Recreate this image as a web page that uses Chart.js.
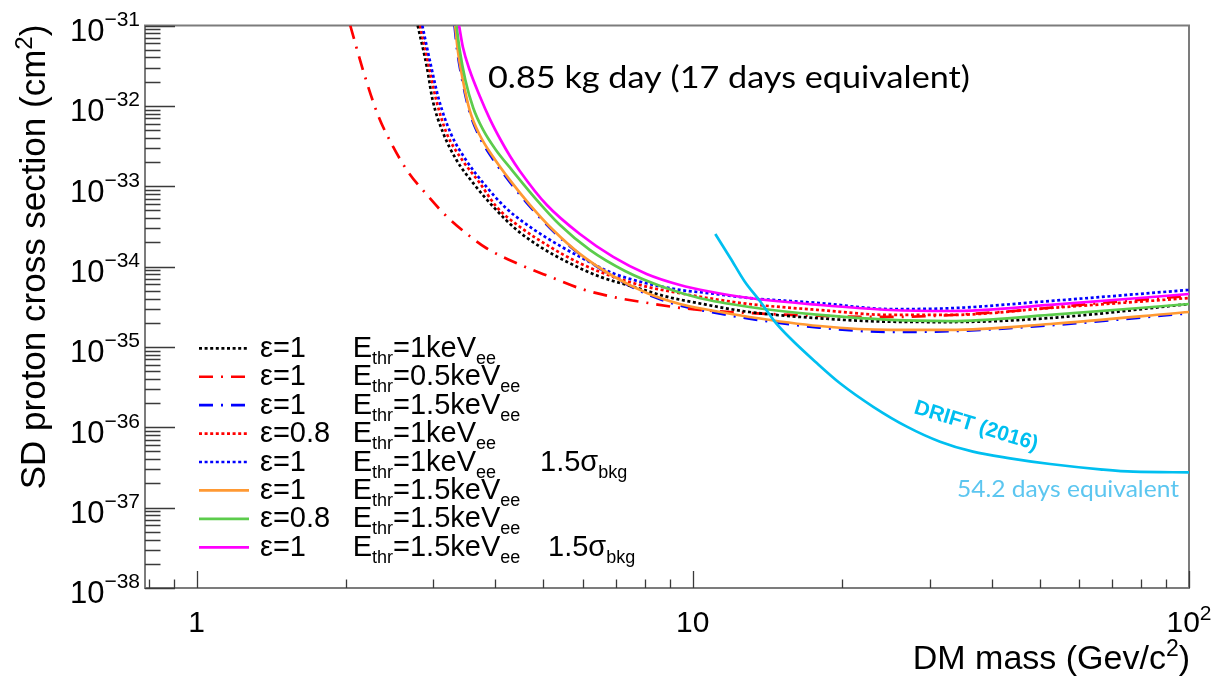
<!DOCTYPE html>
<html>
<head>
<meta charset="utf-8">
<script src="https://cdn.jsdelivr.net/npm/chart.js@4.4.1/dist/chart.umd.min.js"></script>
<style>
  html, body { margin: 0; padding: 0; background: #ffffff; }
  #wrap { width: 1217px; height: 680px; position: relative; }
</style>
</head>
<body>
<div id="wrap"><canvas id="chart" width="1217" height="680"></canvas></div>
<script>
// ---- Exclusion limits: DM mass (GeV/c^2) vs SD proton cross section (cm^2) ----
const massBlackDot = [2.79, 2.91, 2.99, 3.14, 3.34, 3.61, 3.96, 4.42, 4.92, 5.57, 6.50, 7.59, 8.86, 10.3, 13.0, 18.0, 25.0, 33.0, 52.5, 100];
const sigBlackDot  = [1.0e-31, 3.07e-32, 1.18e-32, 4.59e-33, 2.12e-33, 1.09e-33, 5.56e-34, 2.85e-34, 1.77e-34, 1.15e-34, 7.48e-35, 5.62e-35, 4.22e-35, 3.49e-35, 2.72e-35, 2.27e-35, 2.06e-35, 2.04e-35, 2.29e-35, 3.42e-35];

const massRedDashDot = [2.04, 2.17, 2.32, 2.49, 2.67, 2.89, 3.17, 3.55, 3.84, 4.42, 5.15, 6.00, 7.02, 8.20, 9.55, 13.0, 25.0, 41.6, 66.2, 100];
const sigRedDashDot  = [1.0e-31, 2.64e-32, 7.69e-33, 3.08e-33, 1.50e-33, 8.24e-34, 4.39e-34, 2.40e-34, 1.69e-34, 1.10e-34, 7.48e-35, 5.21e-35, 4.10e-35, 3.49e-35, 3.03e-35, 2.64e-35, 2.36e-35, 2.72e-35, 3.52e-35, 4.31e-35];

const massBlueDashDot = [3.31, 3.35, 3.43, 3.54, 3.70, 3.93, 4.25, 4.67, 5.21, 5.92, 6.90, 8.08, 9.42, 10.8, 13.0, 18.0, 25.0, 33.0, 52.5, 100];
const sigBlueDashDot  = [1.0e-31, 4.95e-32, 2.10e-32, 8.87e-33, 4.34e-33, 2.31e-33, 1.19e-33, 5.83e-34, 2.83e-34, 1.42e-34, 7.50e-35, 4.55e-35, 3.28e-35, 2.74e-35, 2.25e-35, 1.74e-35, 1.54e-35, 1.57e-35, 1.86e-35, 2.63e-35];

const massRedDot = [2.82, 2.94, 3.04, 3.19, 3.43, 3.72, 4.02, 4.48, 5.08, 5.92, 6.91, 8.07, 9.42, 10.8, 13.0, 18.0, 25.0, 33.0, 52.5, 100];
const sigRedDot  = [1.0e-31, 3.07e-32, 1.18e-32, 4.59e-33, 2.12e-33, 1.10e-33, 5.56e-34, 3.13e-34, 1.86e-34, 1.10e-34, 7.48e-35, 5.62e-35, 4.66e-35, 4.03e-35, 3.42e-35, 2.88e-35, 2.50e-35, 2.50e-35, 3.05e-35, 4.06e-35];

const massBlueDot = [2.85, 2.97, 3.08, 3.25, 3.49, 3.81, 4.18, 4.55, 5.08, 5.92, 6.91, 8.07, 9.42, 10.8, 13.0, 18.0, 25.0, 33.0, 52.5, 100];
const sigBlueDot  = [1.0e-31, 3.07e-32, 1.18e-32, 4.59e-33, 2.12e-33, 1.04e-33, 5.51e-34, 3.59e-34, 2.27e-34, 1.32e-34, 8.24e-35, 6.19e-35, 5.12e-35, 4.66e-35, 4.06e-35, 3.52e-35, 2.96e-35, 3.03e-35, 3.73e-35, 5.12e-35];

const massOrange = [3.32, 3.36, 3.44, 3.55, 3.72, 3.96, 4.28, 4.70, 5.23, 5.92, 6.90, 8.08, 9.42, 10.8, 13.0, 18.0, 25.0, 33.0, 52.5, 100];
const sigOrange  = [1.0e-31, 4.95e-32, 2.10e-32, 8.87e-33, 4.34e-33, 2.31e-33, 1.19e-33, 5.83e-34, 2.85e-34, 1.44e-34, 7.64e-35, 4.69e-35, 3.42e-35, 2.88e-35, 2.36e-35, 1.82e-35, 1.63e-35, 1.63e-35, 1.93e-35, 2.72e-35];

const massGreen = [3.34, 3.39, 3.48, 3.61, 3.78, 4.01, 4.32, 4.81, 5.40, 6.20, 7.30, 8.71, 10.3, 13.0, 18.0, 25.0, 33.0, 52.5, 100];
const sigGreen  = [1.0e-31, 4.95e-32, 2.10e-32, 9.40e-33, 5.01e-33, 2.82e-33, 1.59e-33, 7.13e-34, 3.29e-34, 1.61e-34, 8.81e-35, 5.57e-35, 4.06e-35, 3.14e-35, 2.50e-35, 2.17e-35, 2.10e-35, 2.50e-35, 3.42e-35];

const massMagenta = [3.38, 3.44, 3.55, 3.72, 3.90, 4.09, 4.28, 4.48, 5.08, 5.92, 6.91, 8.07, 9.42, 10.8, 13.0, 18.0, 25.0, 33.0, 52.5, 100];
const sigMagenta  = [1.0e-31, 5.40e-32, 2.79e-32, 1.33e-32, 6.85e-33, 3.87e-33, 2.38e-33, 1.55e-33, 5.83e-34, 2.54e-34, 1.32e-34, 8.09e-35, 5.90e-35, 4.90e-35, 4.06e-35, 3.33e-35, 2.88e-35, 2.80e-35, 3.33e-35, 4.56e-35];

const massDrift = [11.1, 11.9, 12.7, 13.7, 14.6, 15.7, 17.8, 19.8, 23.1, 27.0, 31.5, 36.7, 43.6, 52.5, 66.2, 77.2, 100];
const sigDrift  = [2.54e-34, 1.28e-34, 6.62e-35, 3.62e-35, 2.10e-35, 1.29e-35, 6.25e-36, 3.53e-36, 1.80e-36, 1.02e-36, 6.62e-37, 4.97e-37, 4.11e-37, 3.49e-37, 3.00e-37, 2.80e-37, 2.75e-37];

// Legend text pieces, one entry per limit curve (same order as the datasets)
const legendEff  = ['ε=1', 'ε=1', 'ε=1', 'ε=0.8', 'ε=1', 'ε=1', 'ε=0.8', 'ε=1'];
const legendThr  = ['1', '0.5', '1.5', '1', '1', '1.5', '1.5', '1.5'];
const legendBkg  = ['', '', '', '', '1.5', '', '', '1.5'];

// Axis ticks
const yExponents = [-31, -32, -33, -34, -35, -36, -37, -38];
const xTickValues = [1, 10, 100];
const xTickBase   = ['1', '10', '10'];
const xTickSup    = ['', '', '2'];

const X_MIN = 0.787, X_MAX = 100;
const Y_MIN = 1e-38, Y_MAX = 1e-31;

const pts = (m, s) => m.map((v, i) => ({ x: v, y: s[i] }));
const DOT = [3, 2.6];
const DASHDOT = [14, 8, 2, 8];

// "order": higher values are painted first, lower ones end up on top
function curve(label, mass, sig, color, dash, order) {
  return {
    label, data: pts(mass, sig), borderColor: color, backgroundColor: color,
    borderDash: dash, borderWidth: 2.7, showLine: true, pointRadius: 0,
    cubicInterpolationMode: 'monotone', fill: false, order
  };
}

const datasets = [
  curve('ε=1 Ethr=1keVee', massBlackDot, sigBlackDot, '#000000', DOT, 6),
  curve('ε=1 Ethr=0.5keVee', massRedDashDot, sigRedDashDot, '#ff0000', DASHDOT, 7),
  curve('ε=1 Ethr=1.5keVee', massBlueDashDot, sigBlueDashDot, '#0000ff', DASHDOT, 8),
  curve('ε=0.8 Ethr=1keVee', massRedDot, sigRedDot, '#ff0000', DOT, 5),
  curve('ε=1 Ethr=1keVee 1.5σbkg', massBlueDot, sigBlueDot, '#0000ff', DOT, 4),
  curve('ε=1 Ethr=1.5keVee', massOrange, sigOrange, '#ff9933', [], 3),
  curve('ε=0.8 Ethr=1.5keVee', massGreen, sigGreen, '#5ccc4c', [], 2),
  curve('ε=1 Ethr=1.5keVee 1.5σbkg', massMagenta, sigMagenta, '#ff00ff', [], 1),
  curve('DRIFT (2016)', massDrift, sigDrift, '#00bff0', [], 0)
];

const SANS = '"Liberation Sans", Arial, Helvetica, sans-serif';
const f = (px, bold) => (bold ? 'bold ' : '') + px + 'px ' + SANS;

// Draws a run of text pieces (for super/subscripts) starting at x, baseline y
function drawParts(ctx, parts, x, y, align) {
  let total = 0;
  parts.forEach(p => { ctx.font = p.font; p.w = ctx.measureText(p.t).width; total += p.w; });
  let cx = align === 'right' ? x - total : align === 'center' ? x - total / 2 : x;
  ctx.textAlign = 'left';
  ctx.textBaseline = 'alphabetic';
  parts.forEach(p => { ctx.font = p.font; ctx.fillText(p.t, cx, y + (p.dy || 0)); cx += p.w; });
  return total;
}

// Text stretched to a fixed width
function fitText(ctx, text, x, y, width, font) {
  ctx.font = font;
  const w = ctx.measureText(text).width;
  ctx.save();
  ctx.translate(x, y);
  ctx.scale(width / w, 1);
  ctx.textAlign = 'left';
  ctx.textBaseline = 'alphabetic';
  ctx.fillText(text, 0, 0);
  ctx.restore();
}

const framePlugin = {
  id: 'rootFrame',
  beforeDatasetsDraw(chart) {
    const { ctx, chartArea: a, scales: { x, y } } = chart;
    ctx.save();
    ctx.strokeStyle = '#7c7c7c';
    ctx.lineWidth = 2;
    ctx.strokeRect(a.left, a.top, a.right - a.left, a.bottom - a.top);

    ctx.strokeStyle = '#3a3a3a';
    ctx.lineWidth = 1.3;
    ctx.beginPath();
    for (let e = -38; e <= -31; e++) {
      for (let k = 1; k <= 9; k++) {
        const v = k * Math.pow(10, e);
        if (v < Y_MIN * 0.999 || v > Y_MAX * 1.001) continue;
        const py = Math.round(y.getPixelForValue(v)) + 0.5;
        const len = k === 1 ? 30 : 15.5;
        ctx.moveTo(a.left, py);
        ctx.lineTo(a.left + len, py);
      }
    }
    for (let e = -1; e <= 2; e++) {
      for (let k = 1; k <= 9; k++) {
        const v = k * Math.pow(10, e);
        if (v < X_MIN || v > X_MAX * 1.001) continue;
        const px = Math.round(x.getPixelForValue(v)) + 0.5;
        const len = k === 1 ? 17 : 8.5;
        ctx.moveTo(px, a.bottom);
        ctx.lineTo(px, a.bottom - len);
      }
    }
    ctx.stroke();
    ctx.restore();
  },
  afterDatasetsDraw(chart) {
    const { ctx, scales: { x, y } } = chart;
    ctx.save();
    ctx.fillStyle = '#000000';

    // y tick labels 10^n
    yExponents.forEach(e => {
      const py = y.getPixelForValue(Math.pow(10, e));
      drawParts(ctx, [
        { t: '10', font: f(31) },
        { t: '\u2212' + Math.abs(e), font: f(21), dy: -15 }
      ], 140, py + 15.3, 'right');
    });

    // x tick labels
    xTickValues.forEach((v, i) => {
      const px = x.getPixelForValue(v);
      const parts = [{ t: xTickBase[i], font: f(30) }];
      if (xTickSup[i]) parts.push({ t: xTickSup[i], font: f(21), dy: -12 });
      drawParts(ctx, parts, px, 632, 'center');
    });

    // axis titles
    drawParts(ctx, [
      { t: 'DM mass (Gev/c', font: f(34) },
      { t: '2', font: f(23), dy: -13 },
      { t: ')', font: f(34) }
    ], 1190, 669, 'right');

    ctx.save();
    ctx.translate(45, 257);
    ctx.rotate(-Math.PI / 2);
    drawParts(ctx, [
      { t: 'SD proton cross section (cm', font: f(35) },
      { t: '2', font: f(24), dy: -13 },
      { t: ')', font: f(35) }
    ], 0, 0, 'center');
    ctx.restore();

    // legend
    const rowY0 = 348.3, rowStep = 28.43;
    for (let i = 0; i < 8; i++) {
      const ds = chart.data.datasets[i];
      const ry = rowY0 + i * rowStep;
      ctx.save();
      ctx.strokeStyle = ds.borderColor;
      ctx.lineWidth = ds.borderWidth;
      ctx.setLineDash(ds.borderDash || []);
      ctx.beginPath();
      ctx.moveTo(199, ry);
      ctx.lineTo(249, ry);
      ctx.stroke();
      ctx.restore();

      const base = ry + 8.5;
      ctx.fillStyle = '#000000';
      drawParts(ctx, [{ t: legendEff[i], font: f(29) }], 260, base, 'left');
      drawParts(ctx, [
        { t: 'E', font: f(29) },
        { t: 'thr', font: f(18), dy: 7 },
        { t: '=' + legendThr[i] + 'keV', font: f(29) },
        { t: 'ee', font: f(18), dy: 7 }
      ], 352.7, base, 'left');
      if (legendBkg[i]) {
        drawParts(ctx, [
          { t: legendBkg[i] + 'σ', font: f(29) },
          { t: 'bkg', font: f(18), dy: 7 }
        ], i === 7 ? 548 : 540, base, 'left');
      }
    }

    // annotations
    ctx.fillStyle = '#000000';
    fitText(ctx, '0.85 kg day (17 days equivalent)', 488, 87.5, 482, '31px Lato, "Open Sans", sans-serif');
    ctx.fillStyle = '#5cc6f0';
    fitText(ctx, '54.2 days equivalent', 957, 497, 222, '23px Lato, "Open Sans", sans-serif');

    ctx.save();
    ctx.translate(913, 413);
    ctx.rotate(17 * Math.PI / 180);
    ctx.fillStyle = '#00bff0';
    ctx.font = f(21, true);
    ctx.textAlign = 'left';
    ctx.textBaseline = 'alphabetic';
    ctx.fillText('DRIFT (2016)', 0, 0);
    ctx.restore();

    ctx.restore();
  }
};

new Chart(document.getElementById('chart').getContext('2d'), {
  type: 'scatter',
  data: { datasets },
  options: {
    responsive: false,
    animation: false,
    devicePixelRatio: 1,
    layout: { padding: { left: 145, right: 28, top: 25.5, bottom: 92 } },
    scales: {
      x: { type: 'logarithmic', min: X_MIN, max: X_MAX, display: false },
      y: { type: 'logarithmic', min: Y_MIN, max: Y_MAX, display: false }
    },
    plugins: { legend: { display: false }, tooltip: { enabled: false } },
    elements: { point: { radius: 0 } }
  },
  plugins: [framePlugin]
});
</script>
</body>
</html>
